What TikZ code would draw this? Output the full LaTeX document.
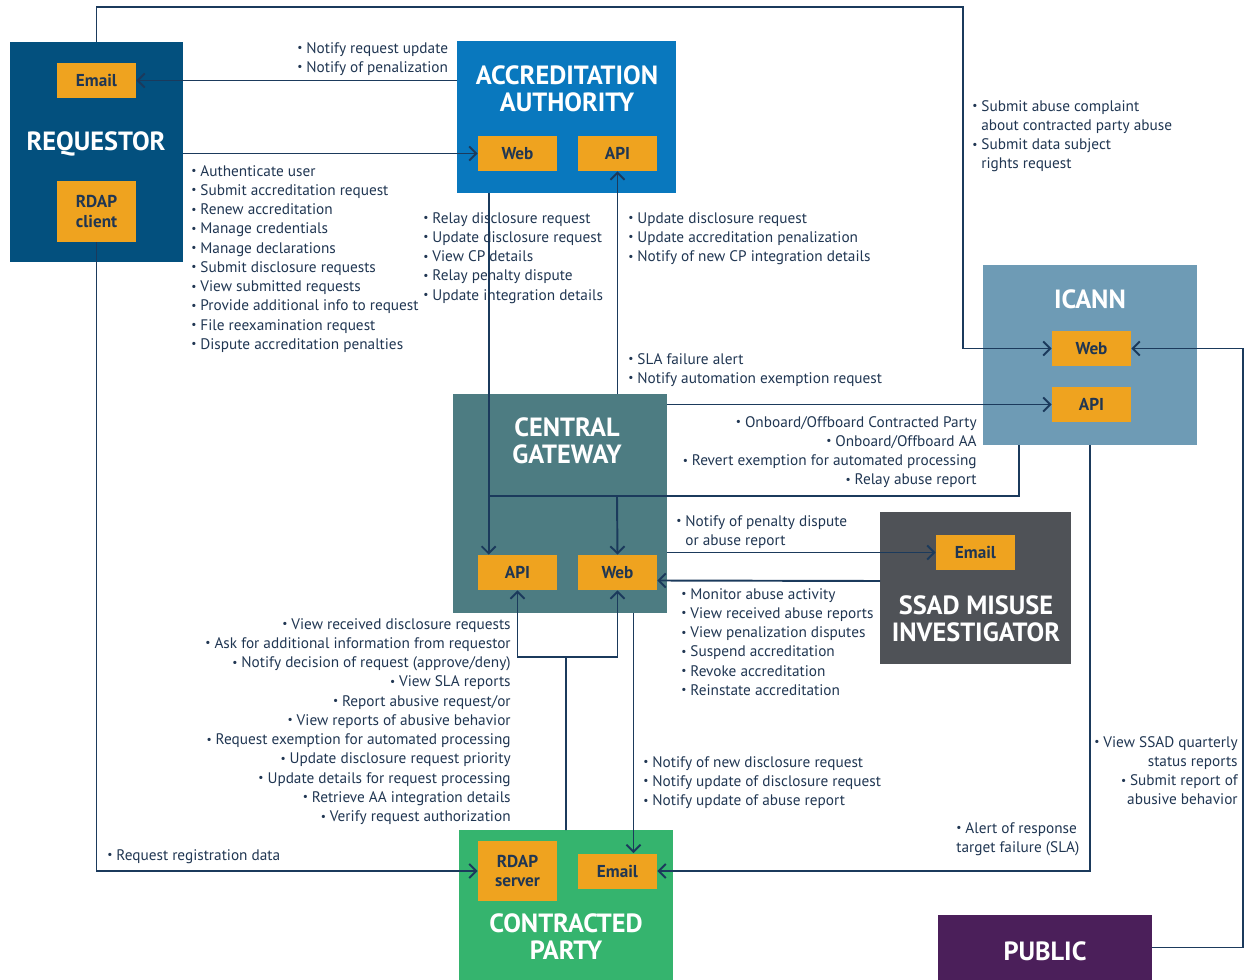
\documentclass[tikz,border=0pt]{standalone}
\usepackage{fontspec}
\setmainfont{PT Sans}
\usetikzlibrary{arrows.meta,calc}

\definecolor{lineblue}{RGB}{27,58,92}
\definecolor{txtblue}{RGB}{32,54,82}
\definecolor{reqblue}{RGB}{3,80,126}
\definecolor{aablue}{RGB}{9,120,190}
\definecolor{icannblue}{RGB}{110,155,181}
\definecolor{gwteal}{RGB}{77,124,130}
\definecolor{invgray}{RGB}{79,82,87}
\definecolor{cpgreen}{RGB}{53,180,110}
\definecolor{pubpurple}{RGB}{75,31,90}
\definecolor{iforange}{RGB}{239,163,31}

\newcommand{\bl}{\raisebox{0.2ex}{\scalebox{0.75}{\textbullet}}\hspace{2.2pt}}
\newcommand{\ind}{\phantom{\bl}}

\tikzset{
  party/.style={anchor=north west, inner sep=0, outer sep=0},
  iface/.style={fill=iforange, minimum width=1.58cm, minimum height=0.70cm, inner sep=0,
    text=txtblue, font=\fontsize{9.8}{11.2}\selectfont\bfseries, align=center},
  title/.style={text=white, font=\fontsize{15}{15.4}\selectfont\bfseries, align=center},
  link/.style={draw=lineblue, line width=1.1pt},
  flow/.style={link, -{Straight Barb[length=4pt,width=8pt]}},
  note/.style={text=txtblue, font=\fontsize{8.7}{10.95}\selectfont, inner sep=0, align=left},
}

\begin{document}
\begin{tikzpicture}[x=0.02cm,y=-0.02cm]
\useasboundingbox (0,0) rectangle (1245,980);

% parties
\node[party, fill=reqblue, minimum width=3.46cm, minimum height=4.40cm] (req) at (10,42) {};
\node[party, fill=aablue, minimum width=4.38cm, minimum height=3.04cm] (aa) at (457,41) {};
\node[party, fill=icannblue, minimum width=4.28cm, minimum height=3.60cm] (icann) at (983,265) {};
\node[party, fill=gwteal, minimum width=4.28cm, minimum height=4.38cm] (cg) at (453,394) {};
\node[party, fill=invgray, minimum width=3.82cm, minimum height=3.04cm] (inv) at (880,512) {};
\node[party, fill=cpgreen, minimum width=4.28cm, minimum height=3.00cm] (cp) at (459,830) {};
\node[party, fill=pubpurple, minimum width=4.28cm, minimum height=1.30cm] (pub) at (938,915) {};

\node[title] (reqtitle) at (96,144) {REQUESTOR};
\node[title] (aatitle) at (567,89) {ACCREDITATION\\AUTHORITY};
\node[title] (icanntitle) at (1090,299) {ICANN};
\node[title] (cgtitle) at (567,441) {CENTRAL\\GATEWAY};
\node[title] (invtitle) at (976,619) {SSAD MISUSE\\INVESTIGATOR};
\node[title] (cptitle) at (566,937) {CONTRACTED\\PARTY};
\node[title] (pubtitle) at (1045,951) {PUBLIC};

% interfaces
\node[iface] (remail) at (96.5,80.5) {Email};
\node[iface, minimum height=1.22cm] (rdapc) at (96.5,211.5) {RDAP\\client};
\node[iface] (aweb) at (517.5,153.5) {Web};
\node[iface] (aapi) at (617.5,153.5) {API};
\node[iface] (iweb) at (1091.5,348.5) {Web};
\node[iface] (iapi) at (1091.5,404.5) {API};
\node[iface] (capi) at (517.5,572.5) {API};
\node[iface] (cweb) at (617.5,572.5) {Web};
\node[iface] (iemail) at (975.5,552.5) {Email};
\node[iface, minimum height=1.20cm] (rdaps) at (517.5,871) {RDAP\\server};
\node[iface] (cpemail) at (617.5,871) {Email};

% bends
\coordinate (topcorner) at (963,7);
\coordinate (gwbus) at (617,496);
\coordinate (fork) at (566,657);
\coordinate (rim) at (1243,0);
\coordinate (relay) at ($(capi.north west)+(11,0)$);
\coordinate (notify) at ($(cpemail.north)+(16,0)$);

% connectors
\draw[flow] (req.north) |- (topcorner) |- (iweb.west);
\draw[flow] (remail.east -| aa.west) -- (remail.east);
\draw[flow] (req.east |- aweb.west) -- (aweb.west);
\draw[flow] (relay |- aa.south) -- (relay);
\draw[flow] (aapi.south |- cg.north) -- (aapi.south);
\draw[flow] (cg.east |- iapi.west) -- (iapi.west);
\draw[link] ($(icann.south west)+(36,0)$) |- (relay |- gwbus);
\draw[flow] (gwbus) -- (cweb.north);
\draw[flow] (cg.east |- iemail.west) -- (iemail.west);
\draw[flow] (inv.west |- 0,581) -- ($(cweb.east)+(0,8)$);
\draw[link] (cp.north) -- (fork);
\draw[flow] (fork) -| (capi.south);
\draw[flow] (fork) -| (cweb.south);
\draw[flow] (notify |- cg.south) -- (notify);
\draw[flow] (rdapc.south) |- (rdaps.west);
\draw[flow] (icann.south) |- (cpemail.east);
\draw[flow] (pub.east) -- (rim |- pub.east) |- (iweb.east);

% labels
\node[note, anchor=north west] (l1) at (297,42) {\bl Notify request update\\\bl Notify of penalization};
\node[note, anchor=north west] (l2) at (191,165) {\bl Authenticate user\\\bl Submit accreditation request\\
  \bl Renew accreditation\\\bl Manage credentials\\\bl Manage declarations\\
  \bl Submit disclosure requests\\\bl View submitted requests\\
  \bl Provide additional info to request\\\bl File reexamination request\\
  \bl Dispute accreditation penalties};
\node[note, anchor=north west] (l3) at (423,212) {\bl Relay disclosure request\\\bl Update disclosure request\\
  \bl View CP details\\\bl Relay penalty dispute\\\bl Update integration details};
\node[note, anchor=north west] (l4) at (628,212) {\bl Update disclosure request\\
  \bl Update accreditation penalization\\\bl Notify of new CP integration details};
\node[note, anchor=north west] (l5) at (628,353) {\bl SLA failure alert\\\bl Notify automation exemption request};
\node[note, anchor=north west] (l6) at (972,100) {\bl Submit abuse complaint\\\ind about contracted party abuse\\
  \bl Submit data subject\\\ind rights request};
\node[note, anchor=north east, align=right] (l7) at (977,416) {\bl Onboard/Offboard Contracted Party\\
  \bl Onboard/Offboard AA\\\bl Revert exemption for automated processing\\\bl Relay abuse report};
\node[note, anchor=north west] (l8) at (676,515) {\bl Notify of penalty dispute\\\ind or abuse report};
\node[note, anchor=north west] (l9) at (681,588) {\bl Monitor abuse activity\\\bl View received abuse reports\\
  \bl View penalization disputes\\\bl Suspend accreditation\\\bl Revoke accreditation\\
  \bl Reinstate accreditation};
\node[note, anchor=north east, align=right] (l10) at (511,618) {\bl View received disclosure requests\\
  \bl Ask for additional information from requestor\\\bl Notify decision of request (approve/deny)\\
  \bl View SLA reports\\\bl Report abusive request/or\\\bl View reports of abusive behavior\\
  \bl Request exemption for automated processing\\\bl Update disclosure request priority\\
  \bl Update details for request processing\\\bl Retrieve AA integration details\\
  \bl Verify request authorization};
\node[note, anchor=north west] (l11) at (643,756) {\bl Notify of new disclosure request\\
  \bl Notify update of disclosure request\\\bl Notify update of abuse report};
\node[note, anchor=north west] (l12) at (107,849) {\bl Request registration data};
\node[note, anchor=north west] (l13) at (956,822) {\bl Alert of response\\target failure (SLA)};
\node[note, anchor=north east, align=right] (l14) at (1238,736) {\bl View SSAD quarterly\\status reports\\
  \bl Submit report of\\abusive behavior};
\end{tikzpicture}
\end{document}
